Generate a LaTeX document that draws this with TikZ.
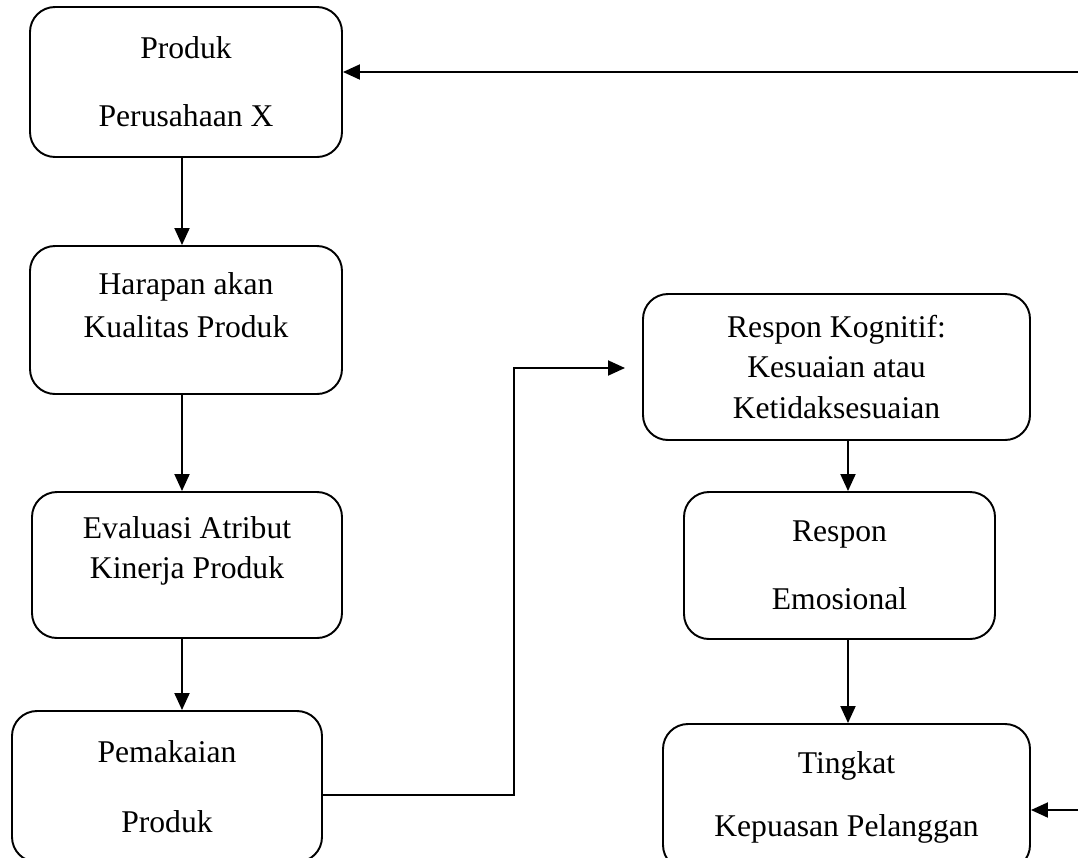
\documentclass[tikz,border=0pt]{standalone}
\usepackage{fontspec}
\setmainfont{Liberation Serif}
\usetikzlibrary{arrows.meta}

\begin{document}
\begin{tikzpicture}[
		kotak/.style={draw, line width=1.1pt, rounded corners=0.5cm, align=center, inner sep=0pt, font=\fontsize{18}{22.8}\selectfont},
		panah/.style={line width=1.1pt, -{Triangle[length=3.4mm,width=3mm]}}
	]
				% 画布
				\useasboundingbox (0,0) rectangle (21.56,-17.14);
				\clip (0,0) rectangle (21.56,-17.14);
				
				% 左列
				\node[kotak, minimum width=6.24cm, minimum height=3cm] (produk) at (3.72,-1.64) {Produk\\[0.56cm]Perusahaan X};
				\node[kotak, minimum width=6.24cm, minimum height=2.96cm, text depth=0.6cm] (harapan) at (3.72,-6.4) {Harapan akan\\[0.06cm]Kualitas Produk};
				\node[kotak, minimum width=6.2cm, minimum height=2.92cm, text depth=0.7cm] (evaluasi) at (3.74,-11.3) {Evaluasi Atribut\\Kinerja Produk};
				\node[kotak, minimum width=6.2cm, minimum height=3.02cm] (pemakaian) at (3.34,-15.73) {Pemakaian\\[0.6cm]Produk};
				
				% 右列
				\node[kotak, minimum width=7.74cm, minimum height=2.92cm] (kognitif) at (16.73,-7.34) {Respon Kognitif:\\Kesuaian atau\\Ketidaksesuaian};
				\node[kotak, minimum width=6.22cm, minimum height=2.94cm] (emosional) at (16.79,-11.31) {Respon\\[0.56cm]Emosional};
				\node[kotak, minimum width=7.34cm, minimum height=2.92cm] (kepuasan) at (16.93,-15.94) {Tingkat\\[0.46cm]Kepuasan Pelanggan};
				
				% 箭头
				\draw[panah] ([xshift=-0.08cm]produk.south) -- ([xshift=-0.08cm]harapan.north);
				\draw[panah] ([xshift=-0.08cm]harapan.south) -- ([xshift=-0.08cm]harapan.south |- evaluasi.north);
				\draw[panah] ([xshift=-0.1cm]evaluasi.south) -- ([xshift=-0.1cm]evaluasi.south |- pemakaian.north);
				\draw[panah] ([xshift=0.23cm]kognitif.south) -- ([xshift=0.23cm]kognitif.south |- emosional.north);
				\draw[panah] ([xshift=0.23cm]kognitif.south |- emosional.south) -- ([xshift=0.23cm]kognitif.south |- kepuasan.north);
				
				% 从使用到认知
				\coordinate (belok) at (10.28,-7.36);
				\coordinate (masuk) at (12.5,-7.36);
				\draw[panah] ([yshift=-0.17cm]pemakaian.east) -| (belok) -- (masuk);
				
				% 右侧反馈
				\coordinate (baliktop) at (21.56,-1.44);
				\coordinate (balikbawah) at (21.56,-16.2);
				\draw[panah] (baliktop) -- (baliktop -| produk.east);
				\draw[panah] (balikbawah) -- (balikbawah -| kepuasan.east);
				
\end{tikzpicture}
\end{document}
